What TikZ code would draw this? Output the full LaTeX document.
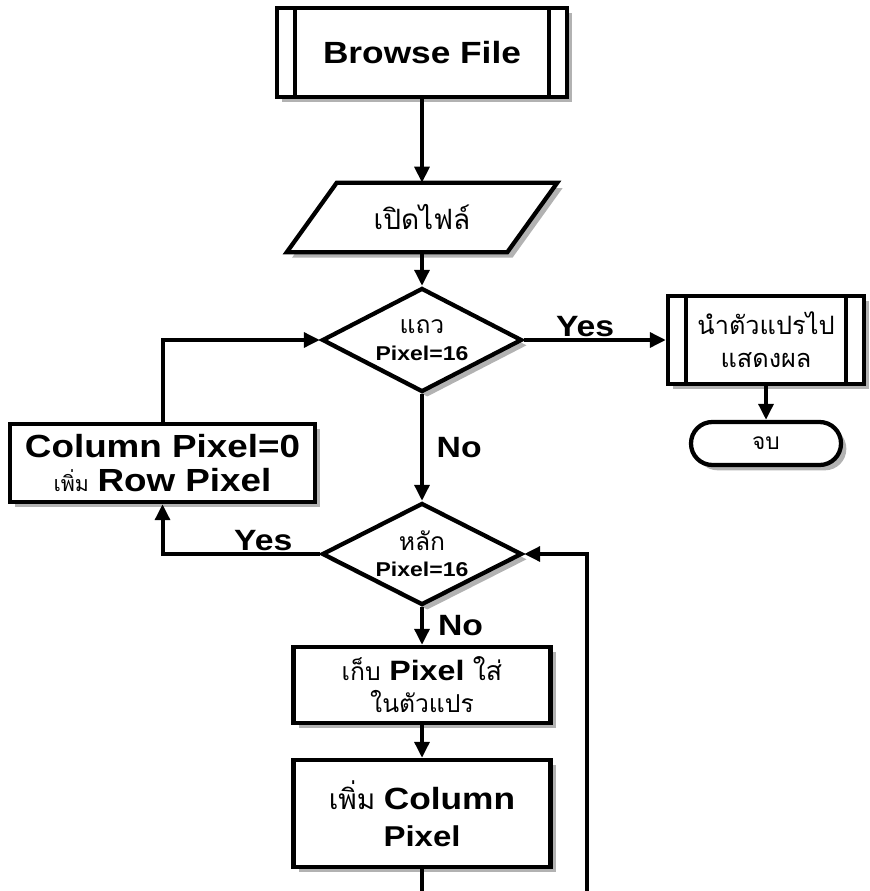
\documentclass[tikz,border=0pt]{standalone}
\usepackage{fontspec}
\setmainfont{Liberation Sans}[FakeStretch=1.15]
\newfontfamily\thaifont[Script=Thai]{Loma}
\usetikzlibrary{shapes.geometric,arrows.meta,shadows,calc,backgrounds}

% Latin bold text and Thai text at a given size
\newcommand\Lat[2]{{\fontsize{#1}{#1}\selectfont\bfseries #2}}
\newcommand\Thai[2]{{\thaifont\fontsize{#1}{#1}\selectfont #2}}

\begin{document}
\begin{tikzpicture}[x=0.75pt,y=-0.75pt,
  conn/.style={line width=3pt,-{Triangle[length=12pt,width=11pt]}},
  dropsh/.style={general shadow={shadow xshift=4pt,shadow yshift=-4pt,fill=black!30}},
  base/.style={draw,line width=3.2pt,fill=white,dropsh,inner sep=0pt,align=center},
  stepbox/.style={base,rectangle},
  procbox/.style={base,rectangle,
    path picture={
      \draw[line width=3pt]
        ([xshift=13.5pt]path picture bounding box.north west) --
        ([xshift=13.5pt]path picture bounding box.south west)
        ([xshift=-13.5pt]path picture bounding box.north east) --
        ([xshift=-13.5pt]path picture bounding box.south east);}},
  decision/.style={base,diamond,aspect=2},
  terminal/.style={base,rectangle,rounded corners=16pt},
  lbl/.style={inner sep=0pt,font=\fontsize{22pt}{22pt}\selectfont\bfseries},
]
\useasboundingbox (0,0) rectangle (869,891);

% main column
\node[procbox,minimum width=217.5pt,minimum height=66.75pt] (browse) at (422,52.5)
  {\Lat{23pt}{Browse File}};

\node[inner sep=0pt,minimum width=202.5pt,minimum height=51.75pt] (open) at (422,217.5)
  {\Thai{21pt}{เปิดไฟล์}};
\begin{pgfonlayer}{background}
  \draw[line width=3.2pt,fill=white,dropsh]
    (open.south west) -- ($(open.south east)+(-50,0)$) --
    (open.north east) -- ($(open.north west)+(50,0)$) -- cycle;
\end{pgfonlayer}

\node[decision,minimum width=150pt,minimum height=78pt,
      font=\fontsize{15pt}{20pt}\selectfont] (d1) at (422,340)
  {\Thai{18.5pt}{แถว}\\\Lat{15pt}{Pixel=16}};

\node[procbox,minimum width=147pt,minimum height=66pt,
      font=\fontsize{18pt}{25pt}\selectfont] (result) at (766,340)
  {\Thai{19pt}{นำตัวแปรไป}\\\Thai{19pt}{แสดงผล}};

\node[terminal,minimum width=112.5pt,minimum height=32.25pt] (end) at (766,443.5)
  {\Thai{17pt}{จบ}};

\node[stepbox,minimum width=228.75pt,minimum height=58.5pt,
      font=\fontsize{20pt}{26pt}\selectfont] (colbox) at (162.5,463)
  {\Lat{24pt}{Column Pixel=0}\\\Thai{16pt}{เพิ่ม} \Lat{24pt}{Row Pixel}};

\node[decision,minimum width=150pt,minimum height=76.5pt,
      font=\fontsize{15pt}{19.5pt}\selectfont] (d2) at (422,554)
  {\Thai{18.5pt}{หลัก}\\\Lat{15pt}{Pixel=16}};

\node[stepbox,minimum width=192.75pt,minimum height=57pt,
      font=\fontsize{20pt}{24pt}\selectfont] (store) at (422,685)
  {\Thai{18.5pt}{เก็บ} \Lat{21pt}{Pixel} \Thai{20pt}{ใส่}\\\Thai{18.5pt}{ในตัวแปร}};

\node[stepbox,minimum width=192.75pt,minimum height=80.25pt,
      font=\fontsize{20pt}{28pt}\selectfont] (inc) at (422,813.5)
  {\Thai{21pt}{เพิ่ม} \Lat{23pt}{Column}\\\Lat{21.5pt}{Pixel}};

% loop-back corners below the last step
\coordinate (lb) at (422,893);
\coordinate (rb) at (587,893);

% connectors
\draw[conn] (browse) -- (open);
\draw[conn] (open) -- (d1);
\draw[conn] (d1.east) -- (result.west)
  node[lbl,pos=0.43,above=1pt] {Yes};
\draw[conn] (result) -- (end);
\draw[conn] (d1.south) -- (d2.north)
  node[lbl,pos=0.5,anchor=west,xshift=9.5pt] {No};
\draw[conn] (d2.west) -| (colbox.south)
  node[lbl,pos=0.18,above=1pt] {Yes};
\draw[conn] (colbox.north) |- (d1.west);
\draw[conn] (d2.south) -- (store.north)
  node[lbl,pos=0.5,anchor=west,xshift=10.5pt] {No};
\draw[conn] (store) -- (inc);
\draw[conn] (inc.south) -- (lb) -- (rb) |- (d2.east);
\end{tikzpicture}
\end{document}
